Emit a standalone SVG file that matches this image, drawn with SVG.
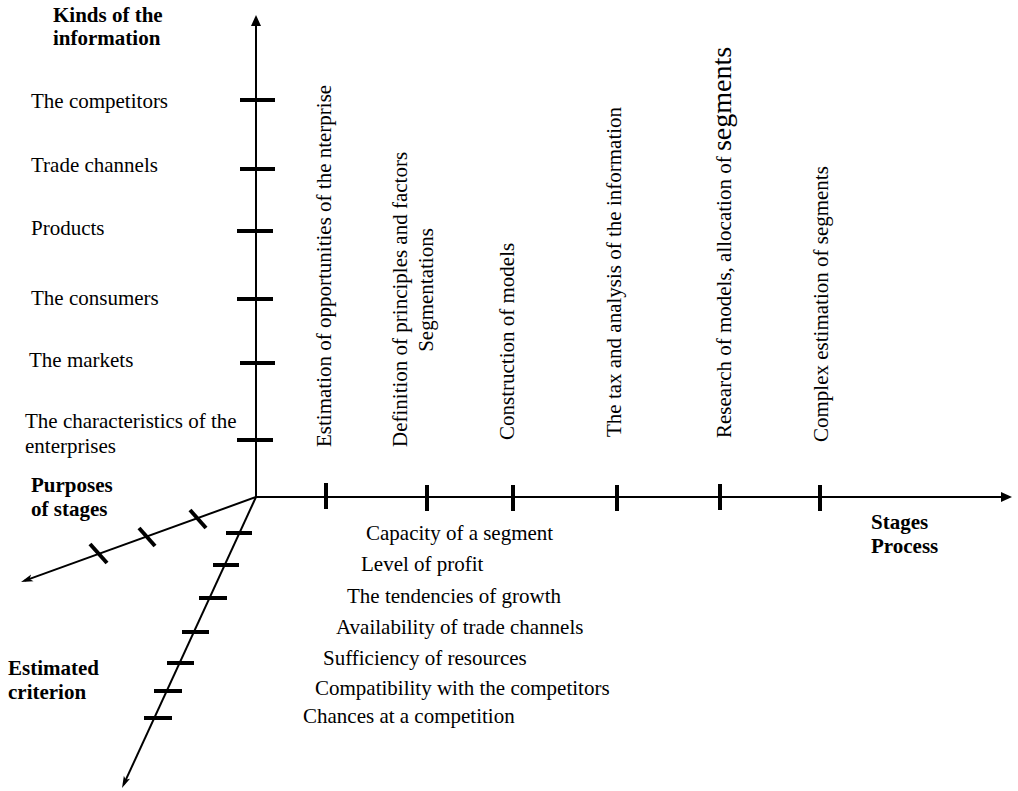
<svg xmlns="http://www.w3.org/2000/svg" width="1018" height="791" viewBox="0 0 1018 791" font-family="'Liberation Serif', 'Times New Roman', 'DejaVu Serif', serif" font-size="21">
<style>
text{font-family:'Liberation Serif','Times New Roman','DejaVu Serif',serif;font-size:21px;fill:#000}
.b{font-weight:bold}
.ax{stroke:#000;stroke-width:2;fill:none}
.tk{stroke:#000;stroke-width:4;fill:none}
</style>
<defs>
<marker id="ah" markerUnits="userSpaceOnUse" markerWidth="12" markerHeight="10" refX="7" refY="5" orient="auto"><path d="M0,0 L11,5 L0,10 z" fill="#000"/></marker>
<marker id="as" markerUnits="userSpaceOnUse" markerWidth="13" markerHeight="9" refX="8" refY="4" orient="auto"><path d="M0,0.5 L12,4 L0,7.5 L3,4 z" fill="#000"/></marker>
</defs>
<rect width="1018" height="791" fill="#fff"/>
<g id="connectors">
<line class="ax" x1="256" y1="497" x2="256" y2="19" marker-end="url(#ah)"/>
<line class="ax" x1="256" y1="497" x2="1008" y2="497" marker-end="url(#ah)"/>
<line class="ax" x1="256" y1="497" x2="24.8" y2="580.6" marker-end="url(#as)"/>
<line class="ax" x1="256" y1="497" x2="123.7" y2="784.4" marker-end="url(#as)"/>
</g>
<g id="info-ticks">
<line class="tk" x1="240" y1="100" x2="275" y2="100"/>
<line class="tk" x1="240" y1="169" x2="275" y2="169"/>
<line class="tk" x1="237" y1="231" x2="273" y2="231"/>
<line class="tk" x1="237" y1="299" x2="273" y2="299"/>
<line class="tk" x1="240" y1="363" x2="275" y2="363"/>
<line class="tk" x1="237" y1="440" x2="273" y2="440"/>
</g>
<g id="stage-ticks">
<line class="tk" x1="326" y1="483" x2="326" y2="509"/>
<line class="tk" x1="427" y1="485" x2="427" y2="511"/>
<line class="tk" x1="513" y1="485" x2="513" y2="511"/>
<line class="tk" x1="617" y1="485" x2="617" y2="511"/>
<line class="tk" x1="720" y1="484" x2="720" y2="510"/>
<line class="tk" x1="820" y1="485" x2="820" y2="511"/>
</g>
<g id="purpose-ticks">
<line class="tk" x1="190" y1="510" x2="206" y2="528"/>
<line class="tk" x1="139" y1="528" x2="155" y2="546"/>
<line class="tk" x1="90" y1="544" x2="107" y2="563"/>
</g>
<g id="criterion-ticks">
<line class="tk" x1="226" y1="533" x2="252" y2="533"/>
<line class="tk" x1="213" y1="565" x2="239" y2="565"/>
<line class="tk" x1="199" y1="598" x2="227" y2="598"/>
<line class="tk" x1="182" y1="632" x2="209" y2="632"/>
<line class="tk" x1="167" y1="663" x2="194" y2="663"/>
<line class="tk" x1="154" y1="691" x2="182" y2="691"/>
<line class="tk" x1="144" y1="718" x2="172" y2="718"/>
</g>
<g id="axis-info-title"><text class="b" x="53" y="22">Kinds of the</text><text class="b" x="53" y="45">information</text></g>
<g id="axis-stages-title"><text class="b" x="871" y="529">Stages</text><text class="b" x="871" y="553">Process</text></g>
<g id="axis-purposes-title"><text class="b" x="31" y="492">Purposes</text><text class="b" x="31" y="516">of stages</text></g>
<g id="axis-criterion-title"><text class="b" x="8" y="675">Estimated</text><text class="b" x="8" y="699">criterion</text></g>
<g id="info-labels">
<text x="31" y="108">The competitors</text>
<text x="31" y="172">Trade channels</text>
<text x="31" y="235">Products</text>
<text x="31" y="305">The consumers</text>
<text x="29" y="367">The markets</text>
<text x="25" y="428">The characteristics of the</text>
<text x="25" y="453">enterprises</text>
</g>
<g id="stage-labels">
<text transform="translate(331,447) rotate(-90)">Estimation of opportunities of the nterprise</text>
<text transform="translate(407,447) rotate(-90)">Definition of principles and factors</text>
<text transform="translate(433,290) rotate(-90)" text-anchor="middle">Segmentations</text>
<text transform="translate(514,440) rotate(-90)">Construction of models</text>
<text transform="translate(621,437) rotate(-90)">The tax and analysis of the information</text>
<text transform="translate(731,438) rotate(-90)">Research of models, allocation of <tspan font-size="28">segments</tspan></text>
<text transform="translate(828,442) rotate(-90)">Complex estimation of segments</text>
</g>
<g id="criterion-labels">
<text x="366" y="540">Capacity of a segment</text>
<text x="361" y="571">Level of profit</text>
<text x="347" y="603">The tendencies of growth</text>
<text x="336" y="634">Availability of trade channels</text>
<text x="323" y="665">Sufficiency of resources</text>
<text x="315" y="695">Compatibility with the competitors</text>
<text x="303" y="723">Chances at a competition</text>
</g>
</svg>
